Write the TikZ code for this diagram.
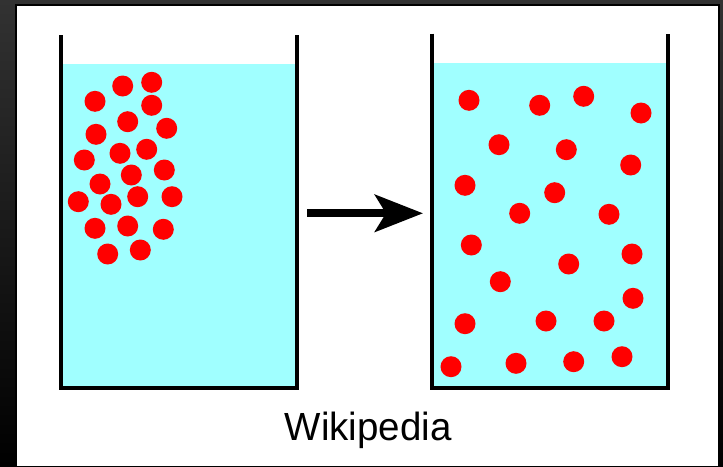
\documentclass[tikz,border=0pt]{standalone}
\usepackage{fontspec}
\newfontfamily\arialf{Liberation Sans}
\usetikzlibrary{arrows.meta}
\definecolor{water}{RGB}{160,255,255}
\definecolor{dotred}{RGB}{255,0,0}
\definecolor{outergray}{RGB}{50,50,50}
\tikzset{
  wall/.style={line width=3.5pt, line join=miter, draw=black},
  waterfill/.style={fill=water},
  dot/.style={fill=dotred},
  bigarrow/.style={line width=8pt, -{Stealth[length=48pt, width=37pt, inset=11pt]}},
  caption/.style={font=\arialf\fontsize{38.5}{40}\selectfont, anchor=base, inner sep=0pt, yscale=1.02}
}
\begin{document}
\begin{tikzpicture}[x=1pt, y=-1pt]
\useasboundingbox (0,0) rectangle (723,466);
% outer frame
\shade[top color=outergray, bottom color=black] (0,0) rectangle (723,466);
\fill[black] (15,4) rectangle (720,466);
\fill[white] (17,6) rectangle (718,466);
% left beaker
\fill[waterfill] (61,63.5) rectangle (297,388);
\draw[wall] (61,35) -- (61,388) -- (297,388) -- (297,35);
% right beaker
\fill[waterfill] (432,63) rectangle (668,388);
\draw[wall] (432,33.5) -- (432,388) -- (668,388) -- (668,33.5);
% left dots
\foreach \p in {(122.7,86),(151.7,82.3),(95,101.3),(151.7,105.3),(127.7,121.7),(166.7,128.3),(96,134.3),(146.7,149.3),(120,153.3),(84.3,160),(164.3,170),(131.3,175),(100,184),(78.3,201.7),(111,204.3),(137.7,196.7),(172,196.7),(95,228.3),(127.7,226),(163.3,229.3),(107.7,254),(140.3,250)}
  \fill[dot] \p circle[radius=10.5];
% right dots
\foreach \p in {(469,100.3),(539.7,105.3),(583.7,96.3),(641,113),(499,144.7),(566.3,149.7),(630.7,165),(465,185.3),(554.7,192.7),(519.7,213.3),(609,214.3),(471.3,245),(632,254),(568.7,264),(500.3,281.7),(633,298.3),(465,323.7),(546,321),(604,321),(622,356.7),(451,366.7),(516,363.3),(573.7,361.7)}
  \fill[dot] \p circle[radius=10.5];
% arrow
\coordinate (astart) at (307,213.3);
\coordinate (aend) at (423,213.3);
\draw[bigarrow] (astart) -- (aend);
% caption
\node[caption] (cap) at (368.3,440) {Wikipedia};
\end{tikzpicture}
\end{document}
